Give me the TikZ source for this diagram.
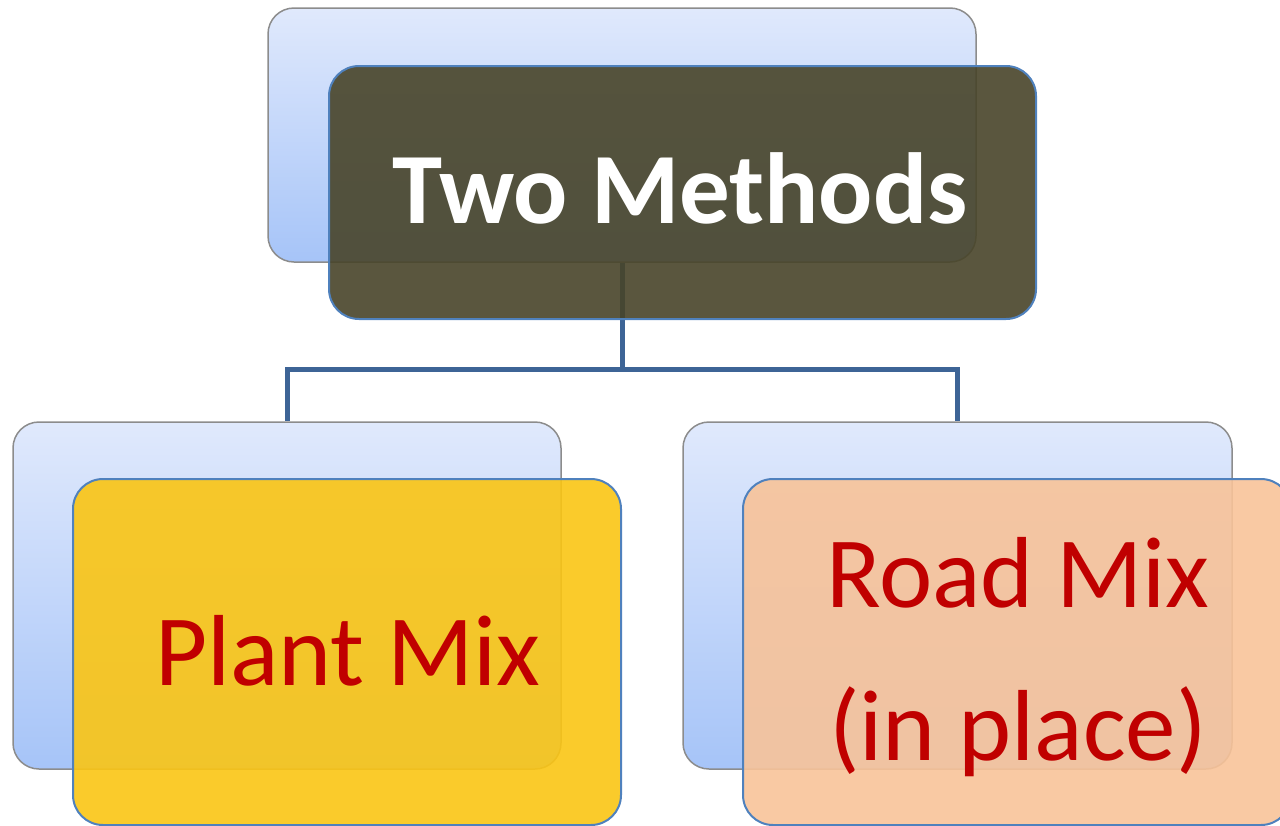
\documentclass[tikz,border=0pt]{standalone}
\usepackage{fontspec}
\setmainfont{Carlito}
\definecolor{backtop}{HTML}{E0E9FC}
\definecolor{backbot}{HTML}{A6C4F8}
\definecolor{backline}{HTML}{8C8C8C}
\definecolor{frontline}{HTML}{4F81BD}
\definecolor{olivebox}{HTML}{484429}
\definecolor{yellowbox}{HTML}{FAC514}
\definecolor{peachbox}{HTML}{F8C399}
\definecolor{conn}{HTML}{3D6496}
\definecolor{redtext}{HTML}{C00000}
\begin{document}
\begin{tikzpicture}[x=1pt,y=-1pt,
  backbox/.style={draw=backline,line width=1.5pt,rounded corners=26pt,top color=backtop,bottom color=backbot,inner sep=0pt},
  frontbox/.style={draw=frontline,line width=2pt,rounded corners=30pt,inner sep=0pt,fill opacity=0.9,text opacity=1},
  connline/.style={draw=conn,line width=5pt},
  bigtext/.style={font=\fontsize{101}{150}\selectfont,align=center}]
\useasboundingbox (0,0) rectangle (1280,825);
% back boxes
\node[backbox,minimum width=708pt,minimum height=254pt] (tb) at (622,135) {};
\node[backbox,minimum width=548pt,minimum height=347pt] (lb) at (287,595.5) {};
\node[backbox,minimum width=549pt,minimum height=347pt] (rb) at (957.5,595.5) {};
% connectors
\coordinate (j) at (622,369);
\draw[connline] (tb.south) -- (j) -| (lb.north);
\draw[connline] (j) -| (rb.north);
% front boxes
\node[frontbox,fill=olivebox,minimum width=707pt,minimum height=253pt] (tf) at (682.5,192.5) {};
\node[frontbox,fill=yellowbox,minimum width=548pt,minimum height=346pt] (lf) at (347,652) {};
\node[frontbox,fill=peachbox,minimum width=548pt,minimum height=346pt] (rf) at (1017,652) {};
% texts
\node[bigtext,text=white,font=\fontsize{101}{150}\selectfont\bfseries] (tt) at (680,188) {Two Methods};
\node[bigtext,text=redtext] (lt) at (348,651) {Plant Mix};
\node[bigtext,text=redtext,font=\fontsize{101}{153}\selectfont] (rt) at (1018,657) {Road Mix\\(in place)};
\end{tikzpicture}
\end{document}
